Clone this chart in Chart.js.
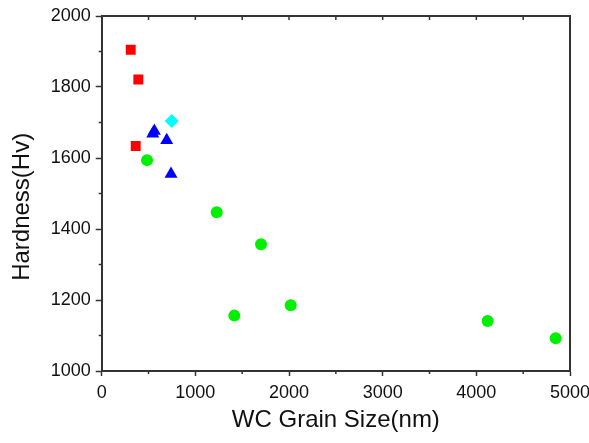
<!DOCTYPE html>
<html lang="en">
<head>
    <meta charset="UTF-8">
    <title>Hardness vs WC Grain Size</title>
    <style>
        body {
            margin: 0;
            background-color: #fff;
        }
        #wrap {
            width: 589px;
            height: 443px;
        }
    </style>
</head>
<body>

<div id="wrap">
    <canvas id="hardnessChart" width="589" height="443"></canvas>
</div>

<script src="https://cdn.jsdelivr.net/npm/chart.js"></script>
<script>
    // grain size (nm) and hardness (Hv)
    const redX = [310, 391, 363];
    const redY = [1905, 1821, 1634];
    const blueX = [545, 562, 694, 740];
    const blueY = [1668, 1676, 1650, 1555];
    const cyanX = [747];
    const cyanY = [1704];
    const greenX = [484, 1228, 1701, 1416, 2018, 4121, 4847];
    const greenY = [1594, 1447, 1357, 1156, 1185, 1141, 1092];

    const xTicks = [0, 1000, 2000, 3000, 4000, 5000];
    const yTicks = [1000, 1200, 1400, 1600, 1800, 2000];

    const axisColor = '#333';
    const fontFamily = "'Liberation Sans', Arial, sans-serif";

    function toPoints(xs, ys) {
        return xs.map((x, i) => ({x: x, y: ys[i]}));
    }

    // box round the plot, inward ticks on top, minor ticks on bottom/left
    const framePlugin = {
        id: 'frame',
        afterDatasetsDraw(chart) {
            const {ctx, chartArea: a, scales} = chart;
            ctx.save();
            ctx.strokeStyle = axisColor;
            ctx.lineWidth = 2;
            ctx.beginPath();
            ctx.moveTo(a.left, a.top);
            ctx.lineTo(a.right, a.top);
            ctx.lineTo(a.right, a.bottom);
            ctx.stroke();

            ctx.lineWidth = 1.5;
            ctx.beginPath();
            for (let v = 500; v < 5000; v += 500) {
                const px = scales.x.getPixelForValue(v);
                ctx.moveTo(px, a.top);
                ctx.lineTo(px, a.top + 4);
                if (v % 1000 !== 0) {
                    ctx.moveTo(px, a.bottom);
                    ctx.lineTo(px, a.bottom + 3);
                }
            }
            for (let v = 1100; v < 2000; v += 200) {
                const py = scales.y.getPixelForValue(v);
                ctx.moveTo(a.left, py);
                ctx.lineTo(a.left - 3, py);
            }
            ctx.stroke();
            ctx.restore();
        }
    };

    const ctx = document.getElementById('hardnessChart').getContext('2d');
    new Chart(ctx, {
        type: 'scatter',
        data: {
            datasets: [
                {
                    label: 'red',
                    data: toPoints(redX, redY),
                    pointStyle: 'rect',
                    pointRadius: 7,
                    backgroundColor: '#ff0000',
                    borderColor: '#ff0000',
                    borderWidth: 0
                },
                {
                    label: 'blue',
                    data: toPoints(blueX, blueY),
                    pointStyle: 'triangle',
                    pointRadius: 7.5,
                    backgroundColor: '#0000ff',
                    borderColor: '#0000ff',
                    borderWidth: 0
                },
                {
                    label: 'cyan',
                    data: toPoints(cyanX, cyanY),
                    pointStyle: 'rectRot',
                    pointRadius: 7,
                    backgroundColor: '#00ffff',
                    borderColor: '#00ffff',
                    borderWidth: 0
                },
                {
                    label: 'green',
                    data: toPoints(greenX, greenY),
                    pointStyle: 'circle',
                    pointRadius: 6,
                    backgroundColor: '#00f000',
                    borderColor: '#00f000',
                    borderWidth: 0
                }
            ]
        },
        options: {
            responsive: false,
            animation: false,
            layout: {
                padding: {top: 16, right: 19, bottom: 0, left: 0}
            },
            plugins: {
                legend: {display: false},
                tooltip: {enabled: false}
            },
            scales: {
                x: {
                    type: 'linear',
                    position: 'bottom',
                    min: 0,
                    max: 5000,
                    afterBuildTicks: (scale) => {
                        scale.ticks = xTicks.map(v => ({value: v}));
                    },
                    afterFit: (scale) => {
                        scale.height = 72;
                        scale.paddingLeft = 0;
                        scale.paddingRight = 0;
                    },
                    grid: {
                        drawOnChartArea: false,
                        tickLength: 5,
                        tickColor: axisColor,
                        tickWidth: 1.5
                    },
                    border: {color: axisColor, width: 2},
                    ticks: {
                        padding: 6,
                        maxRotation: 0,
                        color: '#111',
                        font: {family: fontFamily, size: 18},
                        callback: (v) => String(v)
                    },
                    title: {
                        display: true,
                        text: 'WC Grain Size(nm)',
                        color: '#111',
                        padding: {top: 0, bottom: 8},
                        font: {family: fontFamily, size: 24}
                    }
                },
                y: {
                    type: 'linear',
                    min: 1000,
                    max: 2000,
                    afterBuildTicks: (scale) => {
                        scale.ticks = yTicks.map(v => ({value: v}));
                    },
                    afterFit: (scale) => {
                        scale.width = 101.7;
                        scale.paddingTop = 0;
                        scale.paddingBottom = 0;
                    },
                    grid: {
                        drawOnChartArea: false,
                        tickLength: 6,
                        tickColor: axisColor,
                        tickWidth: 1.5
                    },
                    border: {color: axisColor, width: 2},
                    ticks: {
                        padding: 5,
                        color: '#111',
                        font: {family: fontFamily, size: 18},
                        callback: (v) => String(v)
                    },
                    title: {
                        display: true,
                        // trailing spaces push the centred title a little lower, as in the figure
                        text: 'Hardness(Hv)    ',
                        color: '#111',
                        padding: {top: 8, bottom: 0},
                        font: {family: fontFamily, size: 24}
                    }
                }
            }
        },
        plugins: [framePlugin]
    });
</script>

</body>
</html>
